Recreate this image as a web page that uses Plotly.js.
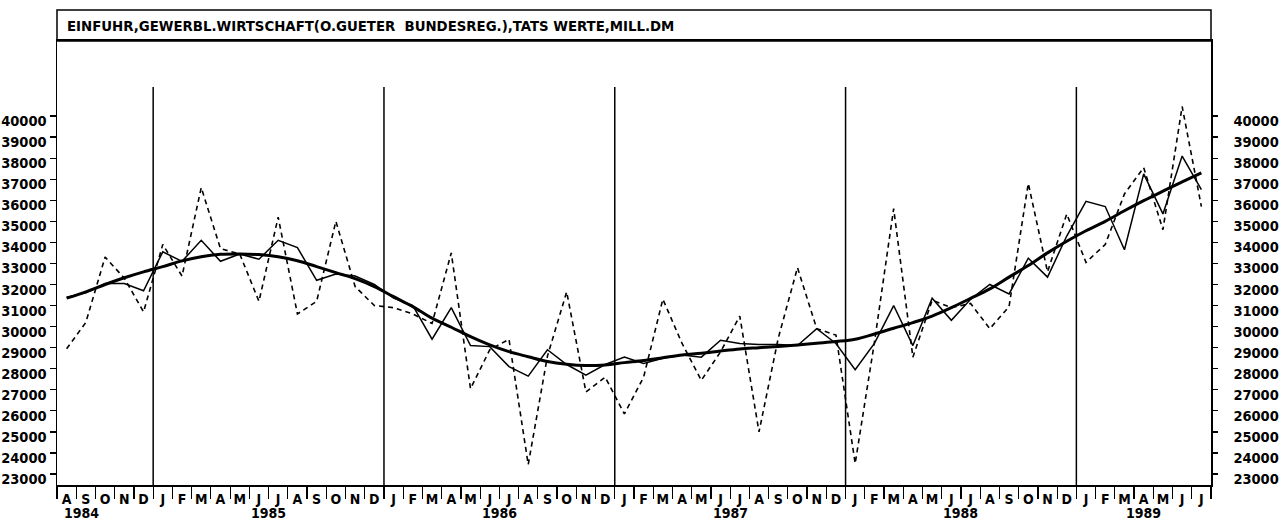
<!DOCTYPE html>
<html><head><meta charset="utf-8">
<script src="https://cdn.plot.ly/plotly-3.0.1.min.js"></script>
<style>html,body{margin:0;padding:0;background:#fff}#chart{width:1281px;height:520px}</style>
</head><body><div id="chart"></div>
<script>
const monthLabels = ['A','S','O','N','D',
  'J','F','M','A','M','J','J','A','S','O','N','D',
  'J','F','M','A','M','J','J','A','S','O','N','D',
  'J','F','M','A','M','J','J','A','S','O','N','D',
  'J','F','M','A','M','J','J','A','S','O','N','D',
  'J','F','M','A','M','J','J'];
const monthYears = [1984,1984,1984,1984,1984,
  1985,1985,1985,1985,1985,1985,1985,1985,1985,1985,1985,1985,
  1986,1986,1986,1986,1986,1986,1986,1986,1986,1986,1986,1986,
  1987,1987,1987,1987,1987,1987,1987,1987,1987,1987,1987,1987,
  1988,1988,1988,1988,1988,1988,1988,1988,1988,1988,1988,1988,
  1989,1989,1989,1989,1989,1989,1989];
const yearLabels = ['1984','1985','1986','1987','1988','1989'];

// Tatsaechliche Werte (dashed)
const original = [28950,30200,33300,32300,30700,
  33900,32400,36600,33700,33450,31200,35200,30600,31200,35000,31900,31000,
  30900,30600,30150,33500,27050,28900,29400,23450,28600,31650,26900,27600,
  25850,27600,31300,29200,27450,28800,30500,25000,29450,32800,29900,29600,
  23500,29250,35600,28550,31250,30900,31100,29900,30950,36800,32600,35350,
  33050,33900,36300,37550,34600,40450,35700];
// Saisonbereinigt (thin solid)
const adjusted = [31400,31600,32050,32050,31700,
  33550,33100,34100,33100,33450,33200,34100,33750,32200,32500,32400,32000,
  31350,31000,29400,30900,29100,29050,28100,27650,28900,28200,27700,28200,
  28550,28250,28500,28650,28550,29350,29200,29150,29150,29100,29900,29200,
  27950,29200,31000,29100,31350,30300,31300,32000,31550,33250,32350,34300,
  35950,35700,33650,37250,35350,38100,36500];
// Trend (thick solid)
const trend = [31350,31650,32000,32320,32600,
  32850,33120,33320,33430,33450,33420,33320,33130,32850,32560,32280,31900,
  31420,30950,30400,29970,29520,29130,28810,28570,28340,28210,28150,28180,
  28290,28390,28520,28650,28730,28840,28940,29000,29060,29130,29210,29290,
  29400,29650,29920,30190,30500,30900,31340,31790,32350,32900,33500,34050,
  34550,35000,35500,35980,36430,36870,37300];
const yTicks = [23000,24000,25000,26000,27000,28000,29000,30000,31000,32000,
  33000,34000,35000,36000,37000,38000,39000,40000];

const xs = monthLabels.map((_, i) => i);
const FONT = 'DejaVu Sans Condensed, DejaVu Sans, sans-serif';
const yRange = [22479, 43561];
const xRange = [-0.5, xs.length - 0.5];

const boundaries = [];
for (let i = 1; i < monthYears.length; i++) if (monthYears[i] !== monthYears[i-1]) boundaries.push(i - 0.5);
const sepVals = xs.map(i => i - 0.5).concat([xs.length - 0.5]);
const yearCenters = yearLabels.map(y => {
  const idx = xs.filter(i => String(monthYears[i]) === y);
  return idx.reduce((a, b) => a + b, 0) / idx.length;
});

const traces = [
  {x: xs, y: original, mode: 'lines', line: {color: '#000', width: 1.6, dash: '5px,4px'}, hoverinfo: 'skip'},
  {x: xs, y: adjusted, mode: 'lines', line: {color: '#000', width: 1.5}, hoverinfo: 'skip'},
  {x: xs, y: trend, xaxis: 'x2', yaxis: 'y2', mode: 'lines',
    line: {color: '#000', width: 3, shape: 'spline', smoothing: 1}, hoverinfo: 'skip'}
];

const shapes = boundaries.map(b => ({
  type: 'line', xref: 'x', yref: 'paper', x0: b, x1: b, y0: 0, y1: 0.8964,
  line: {color: '#000', width: 1.5}
}));
shapes.push({type: 'rect', xref: 'paper', yref: 'paper', x0: 0, x1: 1, y0: 1, y1: 1 + 31/444,
  line: {color: '#000', width: 1.5}});

const annotations = yearLabels.map((y, k) => ({
  text: y, xref: 'x', yref: 'paper', x: yearCenters[k], y: 0, yanchor: 'middle', xanchor: 'center',
  yshift: -28, xshift: k === 0 ? -24 : 0, showarrow: false,
  font: {family: FONT, size: 14, color: '#000', weight: 'bold'}
}));

const tickFont = {family: FONT, size: 14.5, color: '#000', weight: 'bold'};
const monthFont = {family: FONT, size: 14, color: '#000', weight: 'bold'};
const layout = {
  width: 1281, height: 520,
  margin: {l: 57, r: 70, t: 41, b: 35},
  paper_bgcolor: '#fff', plot_bgcolor: '#fff',
  showlegend: false,
  title: {text: 'EINFUHR,GEWERBL.WIRTSCHAFT(O.GUETER\u00a0 BUNDESREG.),TATS WERTE,MILL.DM',
    font: {family: FONT, size: 14.8, color: '#000', weight: 'bold'},
    xref: 'container', yref: 'container', x: 67/1281, xanchor: 'left', y: 1 - 26/520, yanchor: 'middle'},
  xaxis: {range: xRange, tickvals: xs, ticktext: monthLabels, ticks: '', showline: true,
    linecolor: '#000', linewidth: 2, mirror: true, showgrid: false, zeroline: false, tickfont: monthFont,
    ticklabelstandoff: 0},
  xaxis2: {overlaying: 'x', anchor: 'y2', side: 'bottom', range: xRange, tickvals: sepVals,
    ticks: 'outside', ticklen: 13, tickwidth: 1.2, tickcolor: '#000', showticklabels: false,
    showline: false, showgrid: false, zeroline: false},
  yaxis: {range: yRange, tickvals: yTicks, ticktext: yTicks.map(String), ticks: 'outside', ticklen: 6,
    tickwidth: 1.2, tickcolor: '#000', showline: true, linecolor: '#000', linewidth: 1.5,
    showgrid: false, zeroline: false, tickfont: tickFont, ticklabelshift: 5, ticklabelstandoff: 0},
  yaxis2: {overlaying: 'y', anchor: 'x2', side: 'right', range: yRange, tickvals: yTicks,
    ticktext: yTicks.map(String), ticks: 'outside', ticklen: 5, tickwidth: 1.2, tickcolor: '#000',
    showline: true, linecolor: '#000', linewidth: 1.5, showgrid: false, zeroline: false,
    tickfont: tickFont, ticklabelshift: 5, ticklabelstandoff: 13},
  shapes: shapes,
  annotations: annotations
};
Plotly.newPlot('chart', traces, layout, {staticPlot: true, displayModeBar: false});
</script></body></html>
